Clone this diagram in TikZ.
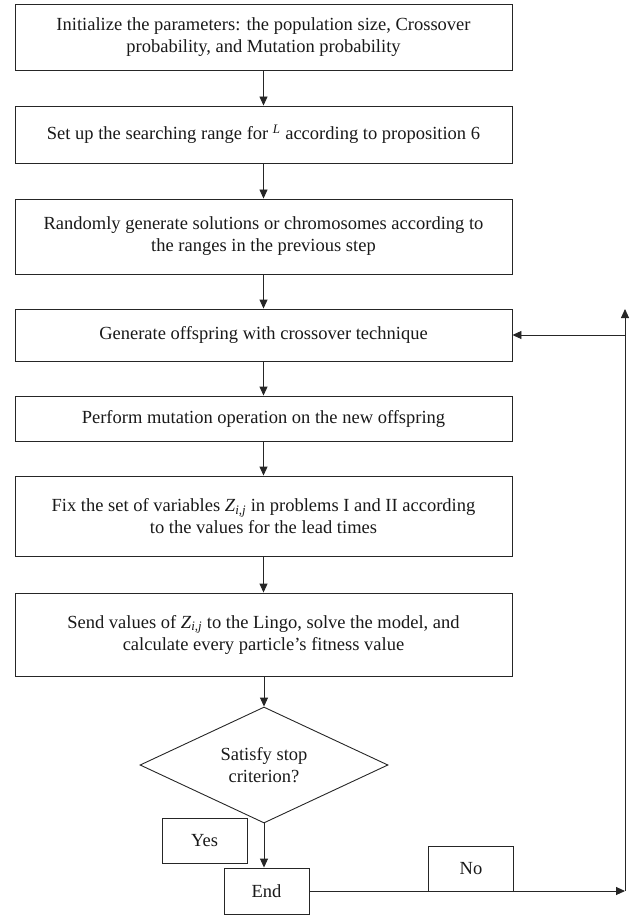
\documentclass[tikz,border=0pt]{standalone}
\usepackage{fontspec}
\setmainfont{Liberation Serif}
\usetikzlibrary{shapes.geometric,arrows.meta}
\begin{document}
\begin{tikzpicture}[x=1pt,y=-1pt,
  box/.style={draw=black!85,line width=0.9pt,minimum width=497pt,align=center,font=\fontsize{18.5}{22}\selectfont,inner sep=0pt,text=black!90},
  lab/.style={draw=black!85,line width=0.9pt,minimum width=85pt,minimum height=45pt,inner sep=0pt,font=\fontsize{18.5}{22}\selectfont,text=black!90},
  dec/.style={draw=black!85,line width=0.9pt,diamond,minimum width=248pt,minimum height=116pt,inner sep=0pt,aspect=2.14,align=center,font=\fontsize{18.5}{22}\selectfont,text=black!90},
  arr/.style={draw=black!85,line width=0.9pt,-{Triangle[length=9pt,width=8pt]}},
  ln/.style={draw=black!85,line width=0.9pt}]
\useasboundingbox (0,0) rectangle (636,917);
\node[box,minimum height=66pt] (b1) at (263.5,37) {Initialize the parameters: the population size, Crossover\\probability, and Mutation probability};
\node[box,minimum height=57pt] (b2) at (263.5,134.5) {Set up the searching range for \textsuperscript{\itshape L} according to proposition 6};
\node[box,minimum height=75pt] (b3) at (263.5,236.5) {Randomly generate solutions or chromosomes according to\\the ranges in the previous step};
\node[box,minimum height=52pt] (b4) at (263.5,335) {Generate offspring with crossover technique};
\node[box,minimum height=45pt] (b5) at (263.5,418.5) {Perform mutation operation on the new offspring};
\node[box,minimum height=80pt] (b6) at (263.5,516) {Fix the set of variables \textit{Z}\textsubscript{\itshape i,j} in problems I and II according\\to the values for the lead times};
\node[box,minimum height=83pt] (b7) at (263.5,634.5) {Send values of \textit{Z}\textsubscript{\itshape i,j} to the Lingo, solve the model, and\\calculate every particle's fitness value};
\node[dec] (d) at (264,765) {Satisfy stop\\criterion?};
\node[lab] (yes) at (204.5,840.5) {Yes};
\node[lab,minimum height=46pt] (end) at (266.5,891) {End};
\node[lab] (no) at (471,868.5) {No};
\coordinate (c1) at (625,891);
\coordinate (c2) at (625,309);
\coordinate (c3) at (625,335);
\draw[arr] (b1) -- (b2);
\draw[arr] (b2) -- (b3);
\draw[arr] (b3) -- (b4);
\draw[arr] (b4) -- (b5);
\draw[arr] (b5) -- (b6);
\draw[arr] (b6) -- (b7);
\draw[arr] (b7.south -| d.north) -- (d.north);
\draw[arr] (d.south) -- (d.south |- end.north);
\draw[arr] (end.east) -- (c1);
\draw[arr] (c1) -- (c2);
\draw[arr] (c3) -- (b4.east);
\end{tikzpicture}
\end{document}
